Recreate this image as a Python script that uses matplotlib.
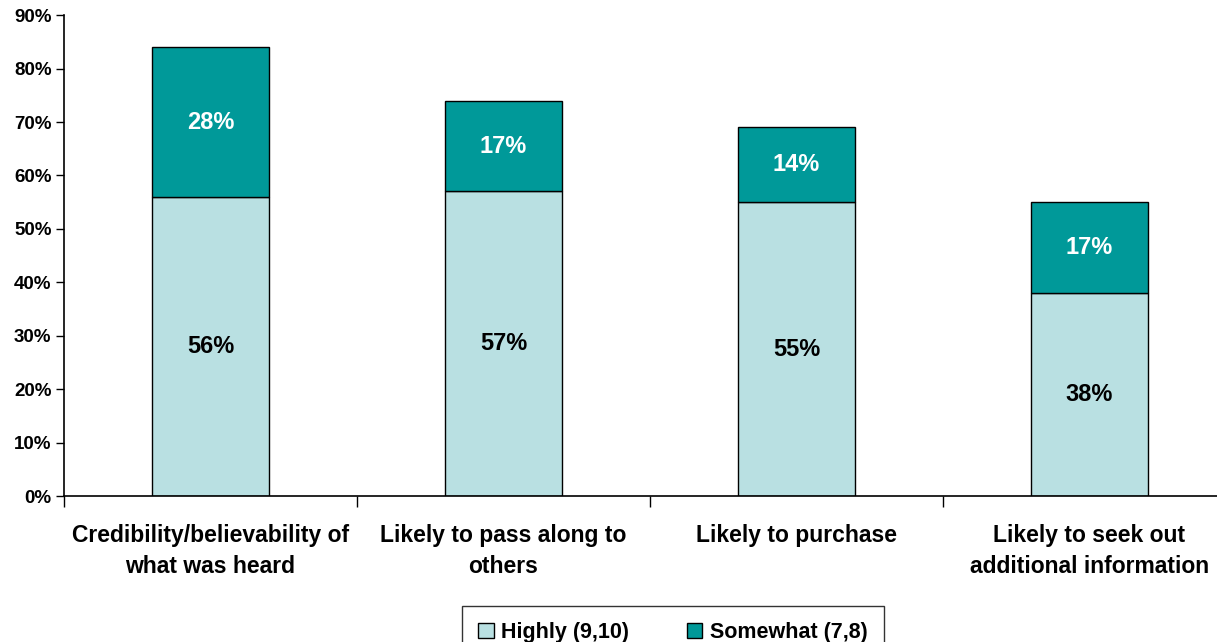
import matplotlib.pyplot as plt
import numpy as np

plt.rcParams['font.family'] = ['Liberation Sans', 'DejaVu Sans']
plt.rcParams['font.weight'] = 'bold'

categories = ['Credibility/believability of\nwhat was heard',
              'Likely to pass along to\nothers',
              'Likely to purchase',
              'Likely to seek out\nadditional information']
highly = [56, 57, 55, 38]
somewhat = [28, 17, 14, 17]
series_names = ['Highly (9,10)', 'Somewhat (7,8)']
yticks = [0, 10, 20, 30, 40, 50, 60, 70, 80, 90]

light = '#B9E0E2'
teal = '#009999'

fig = plt.figure(figsize=(12.17, 6.42), dpi=100)
# axes runs past the right edge, as in the original slide
ax = fig.add_axes([0.0526, 0.2274, 0.963, 0.749])

x = np.arange(len(categories))
b1 = ax.bar(x, highly, width=0.4, color=light, edgecolor='black',
            linewidth=1, label=series_names[0])
b2 = ax.bar(x, somewhat, width=0.4, bottom=highly, color=teal,
            edgecolor='black', linewidth=1, label=series_names[1])

for i in range(len(categories)):
    ax.text(x[i], highly[i] / 2, f'{highly[i]}%', ha='center', va='center',
            fontsize=17, fontweight='bold', color='black')
    ax.text(x[i], highly[i] + somewhat[i] / 2, f'{somewhat[i]}%',
            ha='center', va='center', fontsize=17, fontweight='bold',
            color='white')

ax.set_xlim(-0.5, len(categories) - 0.5)
ax.set_ylim(0, 90)
ax.set_yticks(yticks)
ax.set_yticklabels([f'{v}%' for v in yticks], fontsize=13.5,
                   fontweight='bold')
ax.tick_params(axis='y', length=6, width=1, pad=3)

ax.set_xticks(x)
ax.set_xticklabels(categories, fontsize=16.5, fontweight='bold',
                   linespacing=1.45)
ax.set_xticks(np.arange(len(categories) + 1) - 0.5, minor=True)
ax.tick_params(axis='x', which='major', length=0, pad=20)
ax.tick_params(axis='x', which='minor', length=8, width=1,
               direction='out')

for side in ['top', 'right']:
    ax.spines[side].set_visible(False)
ax.spines['left'].set_linewidth(1.2)
ax.spines['bottom'].set_linewidth(1.2)

leg = fig.legend(handles=[b1, b2], labels=series_names, loc='upper center',
                 bbox_to_anchor=(0.553, 0.056), ncol=2, frameon=True,
                 fancybox=False, edgecolor='black',
                 prop={'weight': 'bold', 'size': 15.5},
                 handlelength=0.7, handleheight=0.7, handletextpad=0.35,
                 columnspacing=2.7, borderpad=0.75, borderaxespad=0)
leg.get_frame().set_linewidth(1)

fig.savefig('out.png', dpi=100)
